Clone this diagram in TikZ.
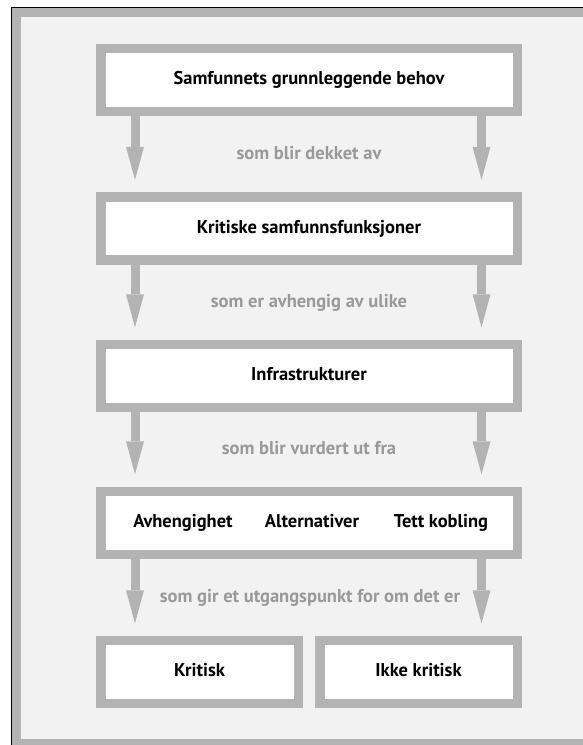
\documentclass[tikz,border=0pt]{standalone}
\usepackage{fontspec}
\setmainfont{PT Sans}
\usetikzlibrary{arrows.meta}
\definecolor{framegray}{RGB}{179,179,179}
\definecolor{bgfill}{RGB}{242,242,242}
\definecolor{labelgray}{RGB}{153,153,153}
\tikzset{
  txtfont/.style={font=\fontsize{18.5}{22}\selectfont\bfseries, text height=13.5pt, text depth=4pt},
  boxnode/.style={draw=framegray, line width=9.5pt, fill=white, minimum height=63pt,
    inner sep=0pt, txtfont, text=black},
  widebox/.style={boxnode, minimum width=416.5pt},
  halfbox/.style={boxnode, minimum width=197.5pt},
  flowarrow/.style={draw=framegray, line width=9pt,
    -{Triangle[width=18pt,length=33pt,line width=0pt]}, shorten >=12.5pt},
  steplabel/.style={txtfont, text=labelgray, inner sep=0pt},
  itemtext/.style={txtfont, text=black, inner sep=0pt}
}
\begin{document}
\begin{tikzpicture}[x=1pt,y=-1pt]
\useasboundingbox (0,0) rectangle (583,745);
\clip (0,0) rectangle (583,745);
\fill[white] (0,0) rectangle (583,745);
% outer frame (cropped at right and bottom)
\fill[black] (10.5,6.5) rectangle (620,780);
\fill[framegray] (12,8) rectangle (610,760);
\fill[bgfill] (21,17.3) rectangle (592,739.3);
% boxes
\node[widebox] (b1) at (309,80) {Samfunnets grunnleggende behov};
\node[widebox] (b2) at (309,228.5) {Kritiske samfunnsfunksjoner};
\node[widebox] (b3) at (309,376) {Infrastrukturer};
\node[widebox] (b4) at (309,523) {};
\node[halfbox] (b5l) at (199.5,672) {Kritisk};
\node[halfbox] (b5r) at (418.5,672) {Ikke kritisk};
% items in box 4
\node[itemtext] (i1) at (183,523) {Avhengighet};
\node[itemtext] (i2) at (312,523) {Alternativer};
\node[itemtext] (i3) at (441,523) {Tett kobling};
% arrows
\foreach \s/\t in {b1/b2,b2/b3,b3/b4}{
  \draw[flowarrow] ([xshift=-174pt]\s.south) -- ([xshift=-174pt]\s.south |- \t.north);
  \draw[flowarrow] ([xshift=172.5pt]\s.south) -- ([xshift=172.5pt]\s.south |- \t.north);
}
\draw[flowarrow] ([xshift=-174pt]b4.south) -- ([xshift=-174pt]b4.south |- b5l.north);
\draw[flowarrow] ([xshift=172.5pt]b4.south) -- ([xshift=172.5pt]b4.south |- b5r.north);
% labels
\node[steplabel] (l1) at (309,155) {som blir dekket av};
\node[steplabel] (l2) at (309,302.5) {som er avhengig av ulike};
\node[steplabel] (l3) at (309,450) {som blir vurdert ut fra};
\node[steplabel] (l4) at (310,598) {som gir et utgangspunkt for om det er};
\end{tikzpicture}
\end{document}
